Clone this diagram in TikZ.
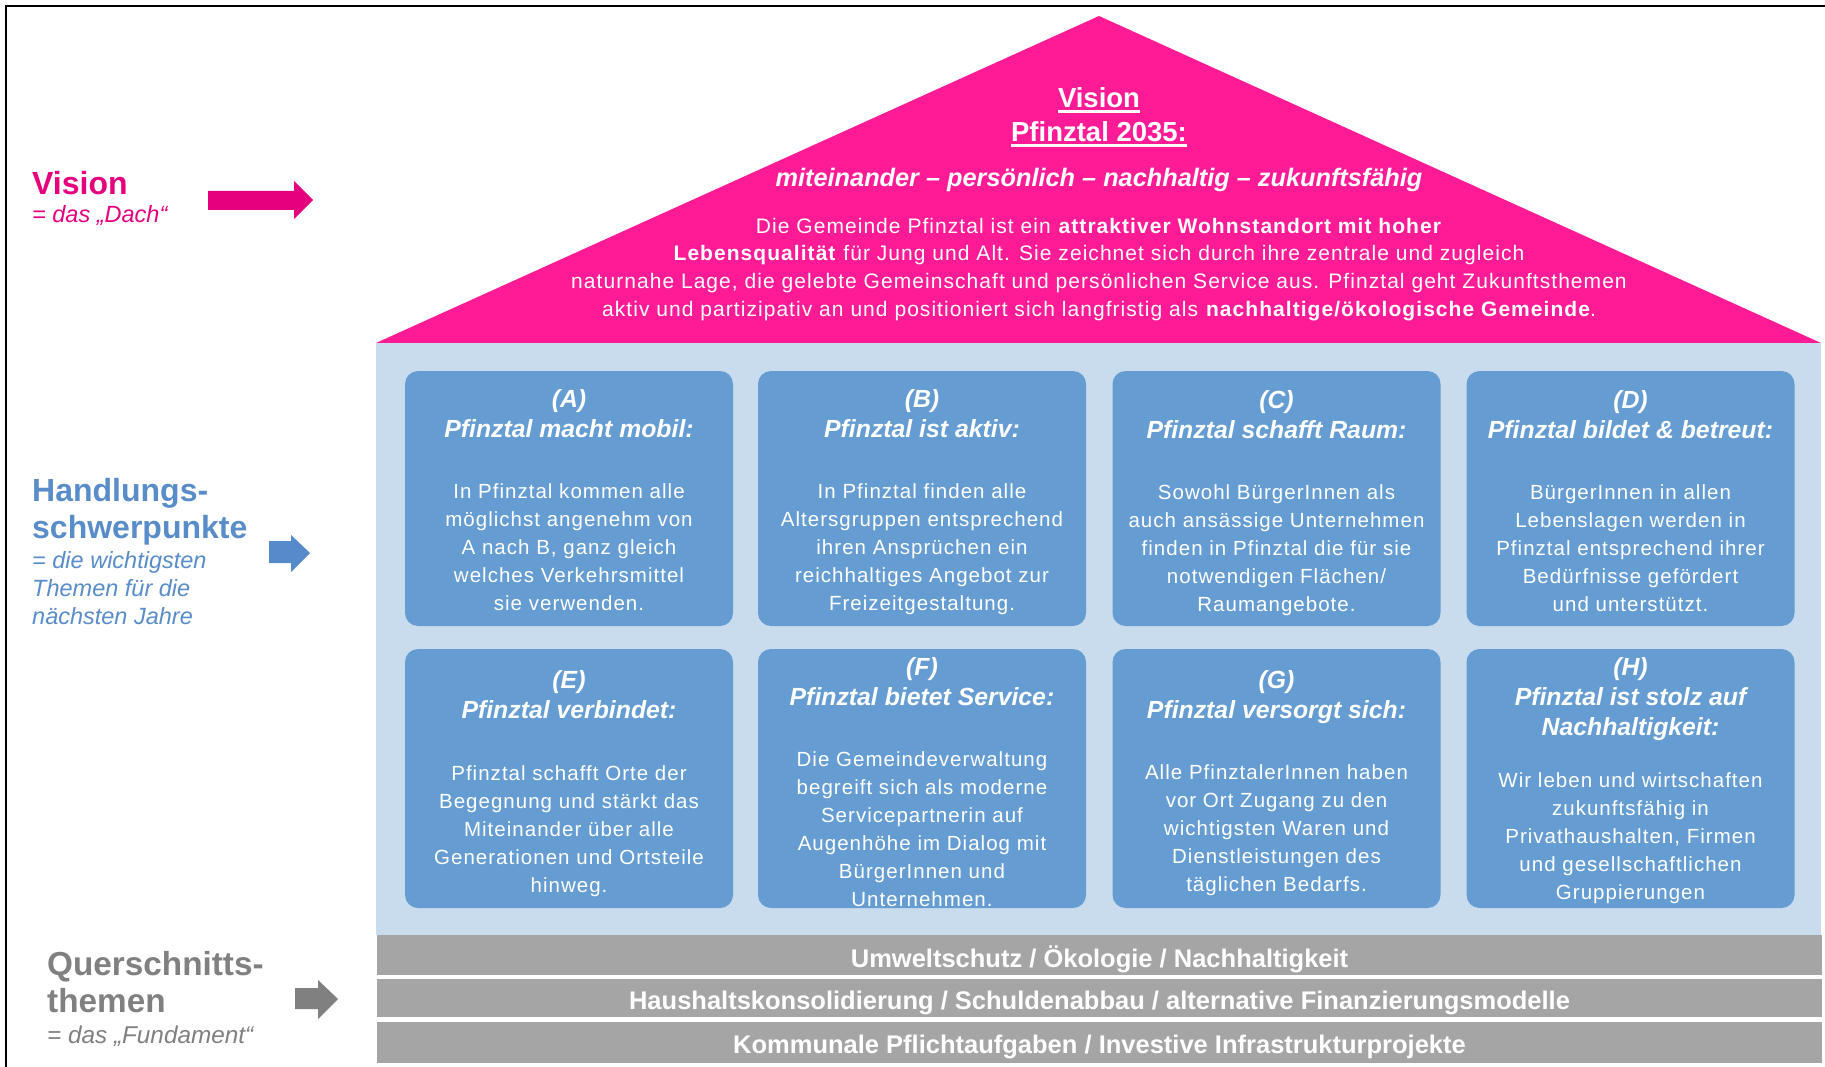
\documentclass[tikz,border=0pt]{standalone}
\usepackage{fontspec}
\setmainfont{Liberation Sans}
\newfontfamily\lsfont[LetterSpace=5]{Liberation Sans}
\newcommand\myul[1]{\setbox0=\hbox{#1}\rlap{\rule[-5.3pt]{\wd0}{2.6pt}}\box0}
\definecolor{roofpink}{RGB}{255,26,150}
\definecolor{vismag}{RGB}{230,0,126}
\definecolor{lightbl}{RGB}{201,220,238}
\definecolor{boxbl}{RGB}{101,157,210}
\definecolor{hblue}{RGB}{88,141,201}
\definecolor{arrbl}{RGB}{85,138,203}
\definecolor{bargrey}{RGB}{165,165,165}
\definecolor{qgrey}{RGB}{128,128,128}
\begin{document}
\begin{tikzpicture}[x=1pt,y=-1pt,
  hbox/.style={fill=boxbl, rounded corners=13pt, minimum width=328pt, inner sep=0pt},
  hdr/.style={anchor=north, align=center, inner sep=0pt, text=white, font=\fontsize{24.8}{30}\selectfont\bfseries\itshape},
  bdy/.style={anchor=north, align=center, inner sep=0pt, text=white, font=\lsfont\fontsize{20.5}{28}\selectfont},
  bar/.style={fill=bargrey, minimum width=1445pt, inner sep=0pt},
  bartxt/.style={inner sep=0pt, text=white, font=\fontsize{25.5}{30}\selectfont\bfseries},
  lbl/.style={anchor=base west, inner sep=0pt, font=\fontsize{32}{38}\selectfont\bfseries},
  sublbl/.style={anchor=base west, inner sep=0pt, font=\fontsize{23.5}{28}\selectfont\itshape},
]
\useasboundingbox (0,0) rectangle (1825,1067);
\fill[white] (0,0) rectangle (1825,1067);
\begin{scope}
\clip (0,0) rectangle (1825,1067);
\draw[line width=2.4pt] (6,1090) -- (6,6) -- (1850,6);
\end{scope}

% roof and body
\fill[roofpink] (376,343) -- (1099,16) -- (1821,343) -- cycle;
\fill[lightbl] (376,343) rectangle (1821,935);

% roof text
\node[anchor=north, align=center, inner sep=0pt, text=white, font=\fontsize{27.5}{34}\selectfont\bfseries] (vtitle) at (1099,83.5) {\strut\myul{Vision}\\\myul{Pfinztal 2035:}};
\node[anchor=base, inner sep=0pt, text=white, font=\fontsize{25.3}{30}\selectfont\bfseries\itshape] (slogan) at (1099,187) {miteinander – persönlich – nachhaltig – zukunftsfähig};
\node[anchor=north, align=center, inner sep=0pt, text=white, font=\lsfont\fontsize{21}{27.7}\selectfont] (vbody) at (1099,213.6) {\strut Die Gemeinde Pfinztal ist ein \textbf{attraktiver Wohnstandort mit hoher}\\\textbf{Lebensqualität} für Jung und Alt. Sie zeichnet sich durch ihre zentrale und zugleich\\naturnahe Lage, die gelebte Gemeinschaft und persönlichen Service aus. Pfinztal geht Zukunftsthemen\\aktiv und partizipativ an und positioniert sich langfristig als \textbf{nachhaltige/ökologische Gemeinde}.};

% boxes top row
\node[hbox, minimum height=255pt] (A) at (569,498.5) {};
\node[hbox, minimum height=255pt] (B) at (922,498.5) {};
\node[hbox, minimum height=255pt] (C) at (1276.5,498.5) {};
\node[hbox, minimum height=255pt] (D) at (1630.5,498.5) {};
% bottom row
\node[hbox, minimum height=259pt] (E) at (569,778.5) {};
\node[hbox, minimum height=259pt] (F) at (922,778.5) {};
\node[hbox, minimum height=259pt] (G) at (1276.5,778.5) {};
\node[hbox, minimum height=259pt] (H) at (1630.5,778.5) {};

\node[hdr] (Ah) at (569,386) {\strut(A)\\Pfinztal macht mobil:};
\node[bdy] (Ab) at (569,478.4) {\strut In Pfinztal kommen alle\\möglichst angenehm von\\A nach B, ganz gleich\\welches Verkehrsmittel\\sie verwenden.};

\node[hdr] (Bh) at (922,386) {\strut(B)\\Pfinztal ist aktiv:};
\node[bdy] (Bb) at (922,478.4) {\strut In Pfinztal finden alle\\Altersgruppen entsprechend\\ihren Ansprüchen ein\\reichhaltiges Angebot zur\\Freizeitgestaltung.};

\node[hdr] (Ch) at (1276.5,387) {\strut(C)\\Pfinztal schafft Raum:};
\node[bdy] (Cb) at (1276.5,480) {\strut Sowohl BürgerInnen als\\auch ansässige Unternehmen\\finden in Pfinztal die für sie\\notwendigen Flächen/\\Raumangebote.};

\node[hdr] (Dh) at (1630.5,387) {\strut(D)\\Pfinztal bildet \& betreut:};
\node[bdy] (Db) at (1630.5,480) {\strut BürgerInnen in allen\\Lebenslagen werden in\\Pfinztal entsprechend ihrer\\Bedürfnisse gefördert\\und unterstützt.};

\node[hdr] (Eh) at (569,667) {\strut(E)\\Pfinztal verbindet:};
\node[bdy] (Eb) at (569,760.4) {\strut Pfinztal schafft Orte der\\Begegnung und stärkt das\\Miteinander über alle\\Generationen und Ortsteile\\hinweg.};

\node[hdr] (Fh) at (922,654) {\strut(F)\\Pfinztal bietet Service:};
\node[bdy] (Fb) at (922,746.4) {\strut Die Gemeindeverwaltung\\begreift sich als moderne\\Servicepartnerin auf\\Augenhöhe im Dialog mit\\BürgerInnen und\\Unternehmen.};

\node[hdr] (Gh) at (1276.5,667) {\strut(G)\\Pfinztal versorgt sich:};
\node[bdy] (Gb) at (1276.5,759.4) {\strut Alle PfinztalerInnen haben\\vor Ort Zugang zu den\\wichtigsten Waren und\\Dienstleistungen des\\täglichen Bedarfs.};

\node[hdr] (Hh) at (1630.5,654) {\strut(H)\\Pfinztal ist stolz auf\\Nachhaltigkeit:};
\node[bdy] (Hb) at (1630.5,767.4) {\strut Wir leben und wirtschaften\\zukunftsfähig in\\Privathaushalten, Firmen\\und gesellschaftlichen\\Gruppierungen};

% foundation bars
\node[bar, minimum height=40pt] (Q1) at (1099.5,955) {};
\node[bar, minimum height=38pt] (Q2) at (1099.5,998) {};
\node[bar, minimum height=41pt] (Q3) at (1099.5,1042.5) {};
\node[bartxt] (Q1t) at (1099.5,959.5) {Umweltschutz / Ökologie / Nachhaltigkeit};
\node[bartxt] (Q2t) at (1099.5,1002.5) {Haushaltskonsolidierung / Schuldenabbau / alternative Finanzierungsmodelle};
\node[bartxt] (Q3t) at (1099.5,1047) {Kommunale Pflichtaufgaben / Investive Infrastrukturprojekte};

% left labels
\node[lbl, text=vismag] (L1) at (32,195) {Vision};
\node[sublbl, text=vismag] (L1s) at (32,223) {= das „Dach“};
\node[lbl, text=hblue] (L2a) at (32,501) {Handlungs-};
\node[lbl, text=hblue] (L2b) at (32,538) {schwerpunkte};
\node[sublbl, text=hblue] (L2c) at (32,568) {= die wichtigsten};
\node[sublbl, text=hblue] (L2d) at (32,596) {Themen für die};
\node[sublbl, text=hblue] (L2e) at (32,624) {nächsten Jahre};
\node[lbl, text=qgrey, font=\fontsize{33.3}{38}\selectfont\bfseries] (L3a) at (47,975) {Querschnitts-};
\node[lbl, text=qgrey, font=\fontsize{33.3}{38}\selectfont\bfseries] (L3b) at (47,1012) {themen};
\node[sublbl, text=qgrey, font=\fontsize{24.3}{28}\selectfont\itshape] (L3c) at (47,1043) {= das „Fundament“};

% arrows
\fill[vismag] (208,191) -- (294,191) -- (294,181) -- (313,200) -- (294,219) -- (294,210) -- (208,210) -- cycle;
\fill[arrbl] (269,541) -- (291,541) -- (291,535) -- (310,553) -- (291,572) -- (291,563) -- (269,563) -- cycle;
\fill[qgrey] (295,988) -- (318,988) -- (318,980) -- (338,999) -- (318,1019) -- (318,1009) -- (295,1009) -- cycle;
\end{tikzpicture}
\end{document}
